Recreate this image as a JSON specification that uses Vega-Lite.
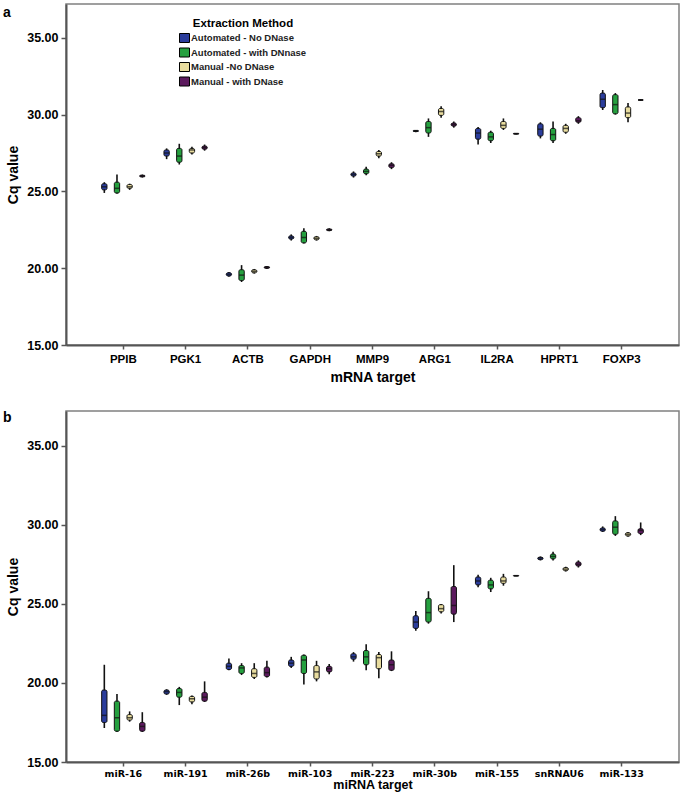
{
  "$schema": "https://vega.github.io/schema/vega-lite/v6.json",
  "padding": {"left": 2, "top": 3, "right": 3, "bottom": 0},
  "spacing": 24,
  "config": {
    "view": {"stroke": "#808080", "strokeWidth": 1.5},
    "axis": {"grid": false, "domainColor": "#555555", "domainWidth": 2, "tickColor": "#555555", "tickWidth": 1.5, "tickSize": 4, "labelColor": "#000000", "titleColor": "#000000"},
    "legend": {"symbolStrokeColor": "#000000", "symbolStrokeWidth": 1, "titleAnchor": "middle"}
  },
  "datasets": {
    "mrna": [
      {"target": "PPIB", "method": "Automated - No DNase", "lo": 24.9, "q1": 25.1, "med": 25.3, "q3": 25.5, "hi": 25.6},
      {"target": "PPIB", "method": "Automated - with DNnase", "lo": 24.85, "q1": 24.9, "med": 25.2, "q3": 25.6, "hi": 26.1},
      {"target": "PPIB", "method": "Manual -No DNase", "lo": 25.1, "q1": 25.2, "med": 25.3, "q3": 25.45, "hi": 25.5},
      {"target": "PPIB", "method": "Manual - with DNase", "lo": 25.9, "q1": 25.95, "med": 26.0, "q3": 26.05, "hi": 26.1},
      {"target": "PGK1", "method": "Automated - No DNase", "lo": 27.1, "q1": 27.3, "med": 27.5, "q3": 27.7, "hi": 27.8},
      {"target": "PGK1", "method": "Automated - with DNnase", "lo": 26.75, "q1": 26.9, "med": 27.3, "q3": 27.8, "hi": 28.1},
      {"target": "PGK1", "method": "Manual -No DNase", "lo": 27.4, "q1": 27.5, "med": 27.7, "q3": 27.8, "hi": 27.9},
      {"target": "PGK1", "method": "Manual - with DNase", "lo": 27.65, "q1": 27.75, "med": 27.85, "q3": 27.95, "hi": 28.05},
      {"target": "ACTB", "method": "Automated - No DNase", "lo": 19.45, "q1": 19.5, "med": 19.6, "q3": 19.7, "hi": 19.75},
      {"target": "ACTB", "method": "Automated - with DNnase", "lo": 19.1, "q1": 19.2, "med": 19.55, "q3": 19.9, "hi": 20.2},
      {"target": "ACTB", "method": "Manual -No DNase", "lo": 19.65, "q1": 19.7, "med": 19.8, "q3": 19.9, "hi": 19.95},
      {"target": "ACTB", "method": "Manual - with DNase", "lo": 19.95, "q1": 20.0, "med": 20.05, "q3": 20.1, "hi": 20.15},
      {"target": "GAPDH", "method": "Automated - No DNase", "lo": 21.8, "q1": 21.9, "med": 22.0, "q3": 22.1, "hi": 22.2},
      {"target": "GAPDH", "method": "Automated - with DNnase", "lo": 21.6, "q1": 21.65, "med": 22.0, "q3": 22.4, "hi": 22.6},
      {"target": "GAPDH", "method": "Manual -No DNase", "lo": 21.8, "q1": 21.85, "med": 21.95, "q3": 22.05, "hi": 22.1},
      {"target": "GAPDH", "method": "Manual - with DNase", "lo": 22.4, "q1": 22.45, "med": 22.5, "q3": 22.55, "hi": 22.6},
      {"target": "MMP9", "method": "Automated - No DNase", "lo": 25.9, "q1": 26.0, "med": 26.1, "q3": 26.2, "hi": 26.3},
      {"target": "MMP9", "method": "Automated - with DNnase", "lo": 26.05, "q1": 26.15, "med": 26.3, "q3": 26.45, "hi": 26.6},
      {"target": "MMP9", "method": "Manual -No DNase", "lo": 27.15, "q1": 27.3, "med": 27.45, "q3": 27.6, "hi": 27.7},
      {"target": "MMP9", "method": "Manual - with DNase", "lo": 26.45, "q1": 26.55, "med": 26.7, "q3": 26.8, "hi": 26.9},
      {"target": "ARG1", "method": "Automated - No DNase", "lo": 28.85, "q1": 28.9, "med": 28.93, "q3": 28.97, "hi": 29.0},
      {"target": "ARG1", "method": "Automated - with DNnase", "lo": 28.55, "q1": 28.8, "med": 29.15, "q3": 29.55, "hi": 29.75},
      {"target": "ARG1", "method": "Manual -No DNase", "lo": 29.8, "q1": 29.95, "med": 30.2, "q3": 30.4, "hi": 30.55},
      {"target": "ARG1", "method": "Manual - with DNase", "lo": 29.15, "q1": 29.25, "med": 29.35, "q3": 29.45, "hi": 29.55},
      {"target": "IL2RA", "method": "Automated - No DNase", "lo": 28.05, "q1": 28.4, "med": 28.8, "q3": 29.1, "hi": 29.2},
      {"target": "IL2RA", "method": "Automated - with DNnase", "lo": 28.15, "q1": 28.3, "med": 28.55, "q3": 28.85, "hi": 28.95},
      {"target": "IL2RA", "method": "Manual -No DNase", "lo": 29.0, "q1": 29.1, "med": 29.3, "q3": 29.55, "hi": 29.75},
      {"target": "IL2RA", "method": "Manual - with DNase", "lo": 28.7, "q1": 28.73, "med": 28.75, "q3": 28.78, "hi": 28.8},
      {"target": "HPRT1", "method": "Automated - No DNase", "lo": 28.45, "q1": 28.6, "med": 29.05, "q3": 29.4, "hi": 29.5},
      {"target": "HPRT1", "method": "Automated - with DNnase", "lo": 28.15, "q1": 28.3, "med": 28.7, "q3": 29.1, "hi": 29.55},
      {"target": "HPRT1", "method": "Manual -No DNase", "lo": 28.75, "q1": 28.85, "med": 29.1, "q3": 29.3, "hi": 29.4},
      {"target": "HPRT1", "method": "Manual - with DNase", "lo": 29.4, "q1": 29.5, "med": 29.6, "q3": 29.8, "hi": 29.9},
      {"target": "FOXP3", "method": "Automated - No DNase", "lo": 30.3, "q1": 30.45, "med": 31.0, "q3": 31.4, "hi": 31.6},
      {"target": "FOXP3", "method": "Automated - with DNnase", "lo": 30.0, "q1": 30.05, "med": 30.65, "q3": 31.3, "hi": 31.4},
      {"target": "FOXP3", "method": "Manual -No DNase", "lo": 29.5, "q1": 29.8, "med": 30.1, "q3": 30.5, "hi": 30.75},
      {"target": "FOXP3", "method": "Manual - with DNase", "lo": 30.9, "q1": 30.93, "med": 30.95, "q3": 30.97, "hi": 31.0}
    ],
    "mirna": [
      {"target": "miR-16", "method": "Automated - No DNase", "lo": 17.15, "q1": 17.5, "med": 17.95, "q3": 19.55, "hi": 21.15},
      {"target": "miR-16", "method": "Automated - with DNnase", "lo": 16.9, "q1": 16.95, "med": 17.8, "q3": 18.85, "hi": 19.3},
      {"target": "miR-16", "method": "Manual -No DNase", "lo": 17.55, "q1": 17.65, "med": 17.8, "q3": 18.0, "hi": 18.2},
      {"target": "miR-16", "method": "Manual - with DNase", "lo": 16.9, "q1": 16.95, "med": 17.25, "q3": 17.5, "hi": 18.15},
      {"target": "miR-191", "method": "Automated - No DNase", "lo": 19.25, "q1": 19.3, "med": 19.45, "q3": 19.55, "hi": 19.6},
      {"target": "miR-191", "method": "Automated - with DNnase", "lo": 18.6, "q1": 19.1, "med": 19.4, "q3": 19.65, "hi": 19.75},
      {"target": "miR-191", "method": "Manual -No DNase", "lo": 18.65, "q1": 18.8, "med": 19.0, "q3": 19.15, "hi": 19.2},
      {"target": "miR-191", "method": "Manual - with DNase", "lo": 18.8, "q1": 18.85, "med": 19.1, "q3": 19.4, "hi": 20.1},
      {"target": "miR-26b", "method": "Automated - No DNase", "lo": 20.8, "q1": 20.85, "med": 21.05, "q3": 21.25, "hi": 21.55},
      {"target": "miR-26b", "method": "Automated - with DNnase", "lo": 20.5, "q1": 20.6, "med": 20.95, "q3": 21.1, "hi": 21.25},
      {"target": "miR-26b", "method": "Manual -No DNase", "lo": 20.25, "q1": 20.35, "med": 20.6, "q3": 20.9, "hi": 21.25},
      {"target": "miR-26b", "method": "Manual - with DNase", "lo": 20.35, "q1": 20.4, "med": 20.65, "q3": 21.0, "hi": 21.4},
      {"target": "miR-103", "method": "Automated - No DNase", "lo": 20.95, "q1": 21.05, "med": 21.25, "q3": 21.45, "hi": 21.65},
      {"target": "miR-103", "method": "Automated - with DNnase", "lo": 19.9, "q1": 20.6, "med": 21.45, "q3": 21.75, "hi": 21.8},
      {"target": "miR-103", "method": "Manual -No DNase", "lo": 20.1, "q1": 20.25, "med": 20.7, "q3": 21.1, "hi": 21.4},
      {"target": "miR-103", "method": "Manual - with DNase", "lo": 20.55, "q1": 20.7, "med": 20.9, "q3": 21.05, "hi": 21.2},
      {"target": "miR-223", "method": "Automated - No DNase", "lo": 21.35, "q1": 21.5, "med": 21.65, "q3": 21.85, "hi": 21.95},
      {"target": "miR-223", "method": "Automated - with DNnase", "lo": 20.8, "q1": 21.15, "med": 21.65, "q3": 22.05, "hi": 22.45},
      {"target": "miR-223", "method": "Manual -No DNase", "lo": 20.3, "q1": 20.9, "med": 21.6, "q3": 21.8, "hi": 21.95},
      {"target": "miR-223", "method": "Manual - with DNase", "lo": 20.75, "q1": 20.8, "med": 21.15, "q3": 21.45, "hi": 22.0},
      {"target": "miR-30b", "method": "Automated - No DNase", "lo": 23.3, "q1": 23.45, "med": 23.85, "q3": 24.25, "hi": 24.55},
      {"target": "miR-30b", "method": "Automated - with DNnase", "lo": 23.75, "q1": 23.85, "med": 24.45, "q3": 25.35, "hi": 25.8},
      {"target": "miR-30b", "method": "Manual -No DNase", "lo": 24.4, "q1": 24.5, "med": 24.7, "q3": 24.95, "hi": 25.0},
      {"target": "miR-30b", "method": "Manual - with DNase", "lo": 23.85, "q1": 24.35, "med": 24.9, "q3": 26.1, "hi": 27.45},
      {"target": "miR-155", "method": "Automated - No DNase", "lo": 26.05, "q1": 26.2, "med": 26.45, "q3": 26.7, "hi": 26.85},
      {"target": "miR-155", "method": "Automated - with DNnase", "lo": 25.75, "q1": 25.95, "med": 26.2, "q3": 26.5, "hi": 26.65},
      {"target": "miR-155", "method": "Manual -No DNase", "lo": 26.15, "q1": 26.3, "med": 26.45, "q3": 26.7, "hi": 26.9},
      {"target": "miR-155", "method": "Manual - with DNase", "lo": 26.75, "q1": 26.76, "med": 26.78, "q3": 26.8, "hi": 26.82},
      {"target": "snRNAU6", "method": "Automated - No DNase", "lo": 27.75, "q1": 27.8, "med": 27.9, "q3": 27.95, "hi": 28.0},
      {"target": "snRNAU6", "method": "Automated - with DNnase", "lo": 27.75, "q1": 27.85, "med": 28.0, "q3": 28.15, "hi": 28.3},
      {"target": "snRNAU6", "method": "Manual -No DNase", "lo": 27.05, "q1": 27.1, "med": 27.2, "q3": 27.3, "hi": 27.35},
      {"target": "snRNAU6", "method": "Manual - with DNase", "lo": 27.3, "q1": 27.4, "med": 27.5, "q3": 27.65, "hi": 27.75},
      {"target": "miR-133", "method": "Automated - No DNase", "lo": 29.55, "q1": 29.6, "med": 29.7, "q3": 29.8, "hi": 29.9},
      {"target": "miR-133", "method": "Automated - with DNnase", "lo": 29.3, "q1": 29.4, "med": 29.85, "q3": 30.25, "hi": 30.55},
      {"target": "miR-133", "method": "Manual -No DNase", "lo": 29.25, "q1": 29.3, "med": 29.4, "q3": 29.5, "hi": 29.55},
      {"target": "miR-133", "method": "Manual - with DNase", "lo": 29.35, "q1": 29.45, "med": 29.65, "q3": 29.75, "hi": 30.15}
    ]
  },
  "vconcat": [
    {
      "width": 613,
      "height": 341,
      "title": {"text": "a", "anchor": "start", "frame": "group", "dx": -63, "dy": 16, "offset": 0, "fontSize": 14, "font": "Liberation Sans", "fontWeight": "bold", "color": "#000000"},
      "data": {"name": "mrna"},
      "encoding": {
        "x": {"field": "target", "type": "nominal", "sort": ["PPIB", "PGK1", "ACTB", "GAPDH", "MMP9", "ARG1", "IL2RA", "HPRT1", "FOXP3"], "scale": {"paddingInner": 0, "paddingOuter": 0.42},
          "axis": {"title": "mRNA target", "labelAngle": 0, "labelFont": "Liberation Sans", "labelFontWeight": "bold", "labelFontSize": 11.5, "labelPadding": 4, "titleFont": "Liberation Sans", "titleFontWeight": "bold", "titleFontSize": 14, "titlePadding": 6}},
        "xOffset": {"field": "method", "type": "nominal", "sort": ["Automated - No DNase", "Automated - with DNnase", "Manual -No DNase", "Manual - with DNase"], "scale": {"paddingInner": 0.58, "paddingOuter": 0.75}}
      },
      "layer": [
        {"mark": {"type": "rule", "color": "#111111", "strokeWidth": 1.6},
         "encoding": {"y": {"field": "lo", "type": "quantitative", "title": "Cq value", "scale": {"domain": [15, 37.2], "nice": false, "zero": false},
            "axis": {"values": [15, 20, 25, 30, 35], "format": ".2f", "labelFont": "Liberation Sans", "labelFontWeight": "bold", "labelFontSize": 12.5, "labelPadding": 3, "tickSize": 5, "titleFont": "Liberation Sans", "titleFontWeight": "bold", "titleFontSize": 14, "titlePadding": 6}},
          "y2": {"field": "hi"}}},
        {"mark": {"type": "bar", "stroke": "#111111", "strokeWidth": 1, "cornerRadius": 1.5},
         "encoding": {"y": {"field": "q1", "type": "quantitative", "title": "Cq value"}, "y2": {"field": "q3"},
          "fill": {"field": "method", "type": "nominal", "scale": {"domain": ["Automated - No DNase", "Automated - with DNnase", "Manual -No DNase", "Manual - with DNase"], "range": ["#2b3d9c", "#25a03f", "#e8dc9e", "#5c1a5e"]},
            "legend": {"title": "Extraction Method", "orient": "none", "legendX": 113, "legendY": 14, "titleFont": "Liberation Sans", "titleFontWeight": "bold", "titleFontSize": 11.5, "titlePadding": 3, "labelFont": "Liberation Sans", "labelFontWeight": "bold", "labelFontSize": 9.5, "labelColor": "#222222", "labelOffset": 1, "symbolType": "M-1,-0.9H1V0.9H-1Z", "symbolSize": 100, "rowPadding": 1.5}}}},
        {"mark": {"type": "tick", "color": "#111111", "thickness": 1.5, "size": 5},
         "encoding": {"y": {"field": "med", "type": "quantitative", "title": "Cq value"}}}
      ]
    },
    {
      "width": 613,
      "height": 351,
      "title": {"text": "b", "anchor": "start", "frame": "group", "dx": -63, "dy": 14, "offset": 0, "fontSize": 14, "font": "Liberation Sans", "fontWeight": "bold", "color": "#000000"},
      "data": {"name": "mirna"},
      "encoding": {
        "x": {"field": "target", "type": "nominal", "sort": ["miR-16", "miR-191", "miR-26b", "miR-103", "miR-223", "miR-30b", "miR-155", "snRNAU6", "miR-133"], "scale": {"paddingInner": 0, "paddingOuter": 0.42},
          "axis": {"title": "miRNA target", "labelAngle": 0, "labelFont": "DejaVu Sans", "labelFontWeight": "bold", "labelFontSize": 9.5, "labelPadding": 2, "titleFont": "Liberation Sans", "titleFontWeight": "bold", "titleFontSize": 12.5, "titlePadding": 1}},
        "xOffset": {"field": "method", "type": "nominal", "sort": ["Automated - No DNase", "Automated - with DNnase", "Manual -No DNase", "Manual - with DNase"], "scale": {"paddingInner": 0.58, "paddingOuter": 0.75}}
      },
      "layer": [
        {"mark": {"type": "rule", "color": "#111111", "strokeWidth": 1.6},
         "encoding": {"y": {"field": "lo", "type": "quantitative", "title": "Cq value", "scale": {"domain": [15, 37.2], "nice": false, "zero": false},
            "axis": {"values": [15, 20, 25, 30, 35], "format": ".2f", "labelFont": "Liberation Sans", "labelFontWeight": "bold", "labelFontSize": 12.5, "labelPadding": 3, "tickSize": 5, "titleFont": "Liberation Sans", "titleFontWeight": "bold", "titleFontSize": 14, "titlePadding": 6}},
          "y2": {"field": "hi"}}},
        {"mark": {"type": "bar", "stroke": "#111111", "strokeWidth": 1, "cornerRadius": 1.5},
         "encoding": {"y": {"field": "q1", "type": "quantitative", "title": "Cq value"}, "y2": {"field": "q3"},
          "fill": {"field": "method", "type": "nominal", "scale": {"domain": ["Automated - No DNase", "Automated - with DNnase", "Manual -No DNase", "Manual - with DNase"], "range": ["#2b3d9c", "#25a03f", "#e8dc9e", "#5c1a5e"]},
            "legend": {"title": "Extraction Method", "orient": "none", "legendX": 88, "legendY": 20, "titleFont": "DejaVu Sans", "titleFontWeight": "bold", "titleFontSize": 12, "titlePadding": 2, "labelFont": "DejaVu Sans", "labelFontSize": 11, "labelColor": "#222222", "labelOffset": 1, "symbolType": "M-1,-0.6H1V0.6H-1Z", "symbolSize": 225, "rowPadding": -1}}}},
        {"mark": {"type": "tick", "color": "#111111", "thickness": 1.5, "size": 5},
         "encoding": {"y": {"field": "med", "type": "quantitative", "title": "Cq value"}}}
      ]
    }
  ],
  "resolve": {"scale": {"color": "independent", "x": "independent"}}
}
